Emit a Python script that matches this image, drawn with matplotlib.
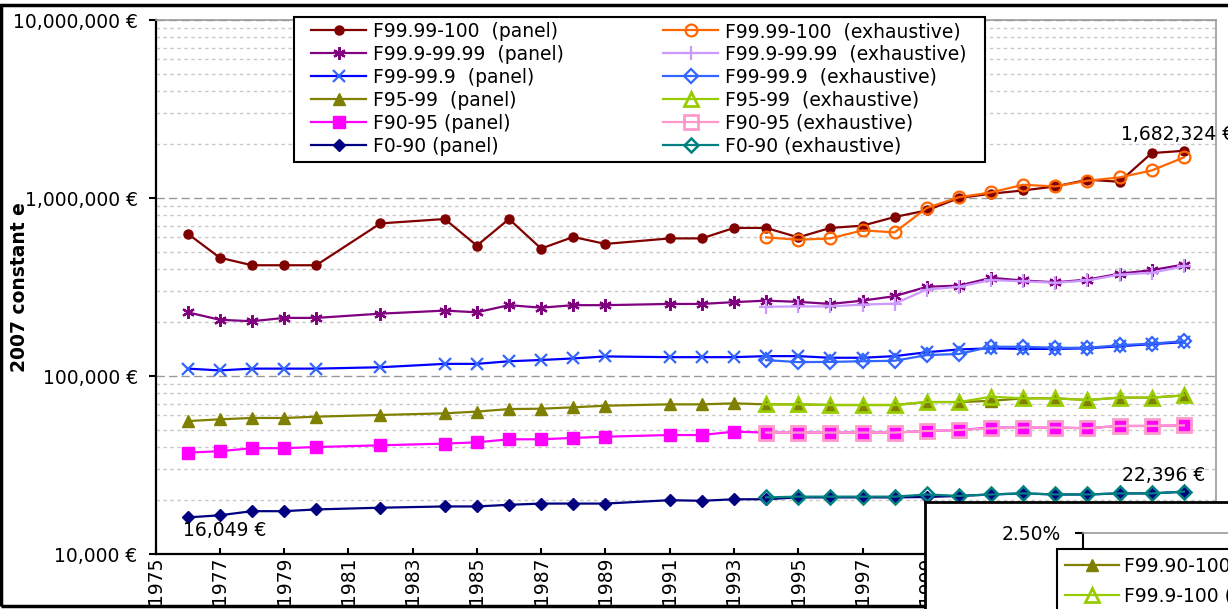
import matplotlib
matplotlib.use("Agg")
import matplotlib.pyplot as plt
from matplotlib.patches import Rectangle
from matplotlib.ticker import LogLocator, NullFormatter

# years
panel_years = [1976, 1977, 1978, 1979, 1980, 1982, 1984, 1985, 1986, 1987, 1988, 1989,
               1991, 1992, 1993, 1994, 1995, 1996, 1997, 1998, 1999, 2000,
               2001, 2002, 2003, 2004, 2005, 2006, 2007]
exh_years = [1994, 1995, 1996, 1997, 1998, 1999, 2000,
             2001, 2002, 2003, 2004, 2005, 2006, 2007]

# 2007 constant euros
f9999_panel = [631000, 462000, 419000, 419000, 419000, 720000, 762000, 540000, 762000,
               520000, 604000, 552000, 593000, 593000, 679000, 679000, 601000, 679000,
               699000, 782000, 852000, 1000000, 1057000, 1103000, 1161000, 1266000,
               1234000, 1788000, 1842000]
f9999_exh = [601000, 583000, 593000, 658000, 641000, 879000, 1010000, 1075000, 1187000,
             1161000, 1250000, 1305000, 1428000, 1690000]

f999_panel = [228000, 207000, 203000, 212000, 212000, 224000, 233000, 228000, 250000,
              242000, 250000, 250000, 254000, 254000, 260000, 265000, 261000, 254000,
              265000, 281000, 317000, 322000, 356000, 344000, 336000, 348000, 376000,
              393000, 423000]
f999_exh = [245000, 246000, 246000, 252000, 255000, 306000, 317000, 346000, 340000,
            334000, 344000, 371000, 380000, 413000]

f99_panel = [110000, 107500, 110000, 110000, 110000, 112000, 117000, 117000, 121000,
             123000, 125500, 128800, 127600, 127600, 127600, 129300, 129300, 126600,
             126600, 129300, 136000, 141000, 143000, 142000, 142000, 143000, 147000,
             151000, 155000]
f99_exh = [122800, 119700, 120000, 121000, 121800, 131000, 133000, 146000, 146000,
           144000, 144000, 149000, 152000, 157000]

f95_panel = [55800, 57100, 58100, 58100, 59100, 60400, 61700, 63100, 65200, 65500, 66700,
             68100, 69300, 69300, 70200, 69300, 69300, 68700, 68700, 68700, 71400, 71400,
             72500, 74900, 74900, 73300, 75600, 75600, 77800]
f95_exh = [69300, 69300, 68700, 68700, 68700, 71400, 71400, 76500, 74900, 74900, 73300,
           75600, 75600, 77800]

f90_panel = [37100, 37800, 39300, 39300, 39900, 40800, 41700, 42400, 44100, 44100, 44900,
             45600, 46600, 46600, 48700, 48100, 48100, 48100, 48100, 48100, 49100, 49700,
             51300, 51300, 51300, 50900, 52400, 52400, 52800]
f90_exh = [48100, 48100, 48100, 48100, 48100, 49100, 49700, 50800, 51300, 51300, 50900,
           52400, 52400, 52800]

f0_panel = [16049, 16500, 17400, 17400, 17800, 18200, 18500, 18500, 18900, 19200, 19200,
            19200, 20060, 19900, 20300, 20300, 20800, 20800, 20800, 20800, 20900, 21200,
            21600, 21900, 21600, 21600, 21900, 21900, 22396]
f0_exh = [20800, 21000, 21000, 21000, 21000, 21600, 21200, 21600, 21900, 21600, 21600,
          21900, 21900, 22396]

ytick_vals = [1e4, 1e5, 1e6, 1e7]
ytick_labels = ["10,000 \u20ac", "100,000 \u20ac", "1,000,000 \u20ac", "10,000,000 \u20ac"]
xtick_years = list(range(1975, 2008, 2))

FS = 13.5
W, H = 1228, 609
fig = plt.figure(figsize=(W / 100, H / 100), dpi=100)

ax = fig.add_axes([155.5 / W, 1 - 554 / H, (1216 - 155.5) / W, (554 - 20) / H])
ax.set_yscale("log")
ax.set_ylim(1e4, 1e7)
ax.set_xlim(1975, 2008)

# panel series first, then exhaustive on top
series = [
    (f9999_panel, panel_years, "F99.99-100  (panel)", dict(color="#800000", marker="o", ms=6.5)),
    (f999_panel, panel_years, "F99.9-99.99  (panel)", dict(color="#800080", marker=(6, 2, 0), ms=9, mew=1.6)),
    (f99_panel, panel_years, "F99-99.9  (panel)", dict(color="#0000FF", marker="x", ms=8, mew=1.6, mec="#3366FF")),
    (f95_panel, panel_years, "F95-99  (panel)", dict(color="#808000", marker="^", ms=9)),
    (f90_panel, panel_years, "F90-95 (panel)", dict(color="#FF00FF", marker="s", ms=8)),
    (f0_panel, panel_years, "F0-90 (panel)", dict(color="#000080", marker="D", ms=6.5)),
    (f9999_exh, exh_years, "F99.99-100  (exhaustive)", dict(color="#FF6600", marker="o", ms=8.5, mfc="none", mew=1.6)),
    (f999_exh, exh_years, "F99.9-99.99  (exhaustive)", dict(color="#CC99FF", marker="+", ms=10, mew=1.6)),
    (f99_exh, exh_years, "F99-99.9  (exhaustive)", dict(color="#3366FF", marker="D", ms=7, mfc="none", mew=1.6)),
    (f95_exh, exh_years, "F95-99  (exhaustive)", dict(color="#99CC00", marker="^", ms=10.5, mfc="none", mew=2)),
    (f90_exh, exh_years, "F90-95 (exhaustive)", dict(color="#FF99CC", marker="s", ms=9.5, mfc="none", mew=2)),
    (f0_exh, exh_years, "F0-90 (exhaustive)", dict(color="#008080", marker="D", ms=7.5, mfc="none", mew=1.8)),
]
handles = []
for vals, yrs, lab, st in series:
    ln, = ax.plot(yrs, vals, lw=1.6, label=lab, **st)
    handles.append(ln)

# axes look
ax.set_yticks(ytick_vals)
ax.set_yticklabels(ytick_labels)
ax.yaxis.set_minor_locator(LogLocator(base=10, subs=range(2, 10)))
ax.yaxis.set_minor_formatter(NullFormatter())
ax.set_xticks(xtick_years)
ax.set_xticklabels([str(y) for y in xtick_years], rotation=90)
ax.tick_params(axis="y", which="major", length=5.3, width=1.5, pad=7.5, labelsize=FS)
ax.tick_params(axis="y", which="minor", length=0)
ax.tick_params(axis="x", length=4, width=1.5, direction="in", pad=2, labelsize=FS)
ax.grid(which="major", axis="y", color="#999999", ls=(0, (6, 3)), lw=1)
ax.grid(which="minor", axis="y", color="#c8c8c8", ls=(0, (2.5, 2.5)), lw=1)
ax.set_axisbelow(True)
for s in ["left", "bottom"]:
    ax.spines[s].set_color("black")
    ax.spines[s].set_linewidth(1.6)
for s in ["top", "right"]:
    ax.spines[s].set_color("#999999")
    ax.spines[s].set_linewidth(1.2)

ax.set_ylabel("2007 constant e", fontsize=13.5, fontweight="bold")
ax.yaxis.set_label_coords(-0.119, 0.5)

# legend box drawn separately so the padding can differ left/top
ax.add_patch(Rectangle((293.8 / W, 1 - 162 / H), (984.8 - 293.8) / W, (162 - 17.3) / H,
                       transform=fig.transFigure, facecolor="white", edgecolor="black",
                       lw=1.5, zorder=4.5, clip_on=False))
leg = ax.legend(handles=handles, ncol=2, loc="upper left",
                bbox_to_anchor=(311 / W, 1 - 22 / H),
                bbox_transform=fig.transFigure, fontsize=FS, frameon=False,
                borderpad=0, labelspacing=0.21, handlelength=2.95,
                handletextpad=0.35, columnspacing=5.3, borderaxespad=0)

ax.annotate("16,049 \u20ac", xy=(panel_years[0], f0_panel[0]), xytext=(-5, -13),
            textcoords="offset pixels", ha="left", va="center", fontsize=FS)
ax.annotate("22,396 \u20ac", xy=(panel_years[-1], f0_panel[-1]), xytext=(-62, 16),
            textcoords="offset pixels", ha="left", va="center", fontsize=FS)
ax.annotate("1,682,324 \u20ac", xy=(exh_years[-1], f9999_exh[-1]), xytext=(-63, 23),
            textcoords="offset pixels", ha="left", va="center", fontsize=FS)

# outer chart border
fig.add_artist(Rectangle((1 / W, 1 - 606 / H), 2, (606 - 5) / H, transform=fig.transFigure,
                         fill=False, edgecolor="black", lw=2.5, zorder=1))

# second chart overlapping bottom right
inset = fig.add_axes([925 / W, -0.05, 0.3, (609 - 502) / H + 0.05], zorder=5)
inset.set_xticks([])
inset.set_yticks([])
for s in ["right", "bottom"]:
    inset.spines[s].set_visible(False)
for s in ["left", "top"]:
    inset.spines[s].set_linewidth(2)
    inset.spines[s].set_color("black")

inner = fig.add_axes([1083 / W, -0.3, 0.2, (609 - 533) / H + 0.3], zorder=6)
inner.patch.set_alpha(0)
inner.set_ylim(0, 0.025)
inner.set_yticks([0.025])
inner.set_yticklabels(["2.50%"])
inner.set_xticks([])
inner.tick_params(axis="y", length=6, width=1.5, pad=10, labelsize=FS)
inner.spines["left"].set_linewidth(1.5)
inner.spines["top"].set_color("#999999")
inner.spines["top"].set_linewidth(1.2)
for s in ["right", "bottom"]:
    inner.spines[s].set_visible(False)
h1, = inner.plot([], [], color="#808000", marker="^", ms=9, lw=1.6, label="F99.90-100 (panel)")
h2, = inner.plot([], [], color="#99CC00", marker="^", ms=10.5, mfc="none", mew=2, lw=1.6,
                 label="F99.9-100 (exhaustive)")
leg2 = fig.legend(handles=[h1, h2], loc="upper left", bbox_to_anchor=(1057 / W, 1 - 549.3 / H),
                  bbox_transform=fig.transFigure, fontsize=FS, frameon=True, fancybox=False,
                  framealpha=1, edgecolor="black", borderpad=0.4, labelspacing=0.55,
                  handlelength=2.9, handletextpad=0.3, borderaxespad=0)
leg2.get_frame().set_linewidth(1.5)
leg2.set_zorder(7)

fig.savefig("out.png", dpi=100)
